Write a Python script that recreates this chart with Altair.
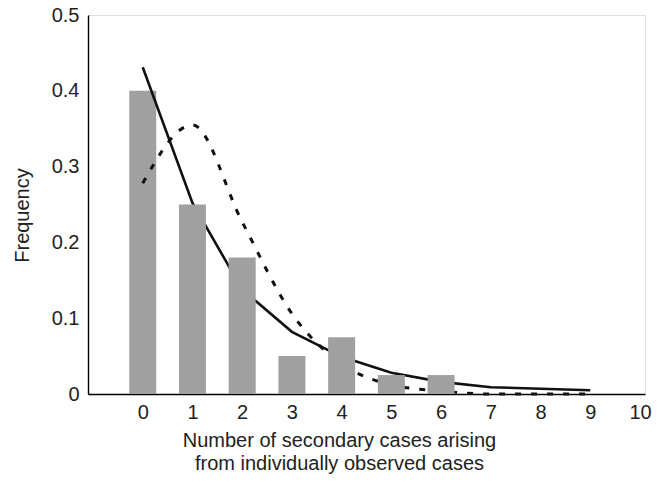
import altair as alt
import pandas as pd

# data
bar_x = [0, 1, 2, 3, 4, 5, 6]
bar_freq = [0.40, 0.25, 0.18, 0.05, 0.075, 0.025, 0.025]

line_x = [0, 1, 2, 3, 4, 5, 6, 7, 8, 9]
solid_freq = [0.431, 0.252, 0.138, 0.082, 0.049, 0.028, 0.016, 0.009, 0.007, 0.005]
dashed_freq = [0.278, 0.355, 0.227, 0.106, 0.040, 0.012, 0.004, 0.0, 0.0, 0.0]

x_ticks = list(range(0, 11))
y_ticks = [0, 0.1, 0.2, 0.3, 0.4, 0.5]

bars_df = pd.DataFrame({"x": bar_x, "freq": bar_freq})
lines_df = pd.DataFrame({"x": line_x, "solid": solid_freq, "dashed": dashed_freq})

FONT = "Liberation Sans"
TXT = "#222222"
FS = 20

x_scale = alt.Scale(domain=[-1, 10], nice=False, zero=False)
y_scale = alt.Scale(domain=[0, 0.5], nice=False)

x_axis = alt.Axis(
    values=x_ticks, ticks=False, grid=False, domain=True, domainColor="#000000",
    domainWidth=1.6, labelFont=FONT, labelFontSize=FS, labelColor=TXT,
    labelPadding=8, labelFlush=False,
    title=["Number of secondary cases arising", "from individually observed cases"],
    titleFont=FONT, titleFontSize=FS, titleFontWeight="normal", titleColor=TXT,
    titleX=251, titleY=36, titleAlign="center", titleBaseline="top", titleLineHeight=23,
)
y_axis = alt.Axis(
    values=y_ticks, ticks=False, grid=False, domain=True, domainColor="#000000",
    domainWidth=1.4, format=".1~f", labelFont=FONT, labelFontSize=FS, labelColor=TXT,
    labelPadding=9, labelFlush=False,
    title="Frequency", titleFont=FONT, titleFontSize=FS, titleFontWeight="normal",
    titleColor=TXT, titleX=-66, titleY=200, titleAngle=270, titleAlign="center",
    titleBaseline="middle",
)

base_bar = alt.Chart(bars_df).mark_bar(size=27, color="#a0a0a0").encode(
    x=alt.X("x:Q", scale=x_scale, axis=x_axis),
    y=alt.Y("freq:Q", scale=y_scale, axis=y_axis),
)
bar_first = base_bar.transform_filter("datum.x == 0")
bar_rest = base_bar.transform_filter("datum.x > 0")

solid = alt.Chart(lines_df).mark_line(color="#111111", strokeWidth=2.6).encode(
    x=alt.X("x:Q", scale=x_scale, axis=x_axis),
    y=alt.Y("solid:Q", scale=y_scale, axis=y_axis),
)
dashed = alt.Chart(lines_df).mark_line(
    color="#111111", strokeWidth=3, strokeDash=[6, 10], interpolate="monotone"
).encode(
    x=alt.X("x:Q", scale=x_scale, axis=x_axis),
    y=alt.Y("dashed:Q", scale=y_scale, axis=y_axis),
)

chart = alt.layer(bar_first, solid, dashed, bar_rest).properties(
    width=557, height=379,
    autosize=alt.AutoSizeParams(type="none"),
    padding={"left": 88, "top": 15, "right": 18, "bottom": 90},
).configure_view(stroke=None).configure(background="white")

chart.save("out.html", embed_options={"renderer": "svg", "actions": False})
